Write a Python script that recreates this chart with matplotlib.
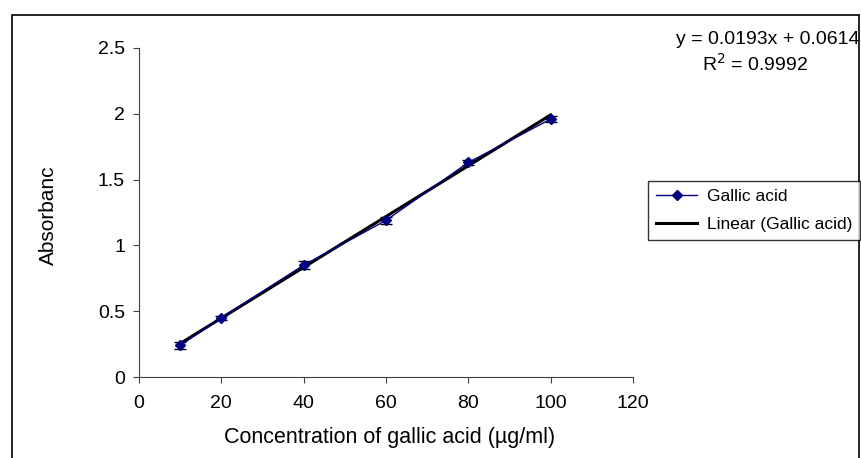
import matplotlib.pyplot as plt
import numpy as np
from matplotlib.patches import Rectangle
from matplotlib.lines import Line2D

plt.rcParams['font.family'] = ['Liberation Sans', 'DejaVu Sans']

conc = [10, 20, 40, 60, 80, 100]
absorb = [0.24, 0.45, 0.85, 1.19, 1.63, 1.96]
err = [0.025, 0.015, 0.03, 0.025, 0.02, 0.02]
slope = 0.0193
intercept = 0.0614
r2 = 0.9992

W, H = 861, 458
fig = plt.figure(figsize=(W / 100, H / 100), dpi=100)
ax = fig.add_axes([139 / W, 1 - 377 / H, (633 - 139) / W, (377 - 48) / H])

# outer chart border
fig.patches.append(Rectangle((12 / W, -0.05), (859 - 12) / W, 1 - 15 / H + 0.05,
                             transform=fig.transFigure, fill=False,
                             edgecolor='black', lw=1.2))

ax.errorbar(conc, absorb, yerr=err, color='#000080', lw=1, marker='D', ms=5,
            ecolor='black', elinewidth=1, capsize=4, capthick=1, zorder=3)
xs = np.array([conc[0], conc[-1]])
ax.plot(xs, slope * xs + intercept, color='black', lw=2.2, zorder=2)

ax.set_xlim(0, 120)
ax.set_ylim(0, 2.5)
ax.set_xticks(range(0, 121, 20))
ax.set_yticks([0, 0.5, 1, 1.5, 2, 2.5])
ax.set_yticklabels(['0', '0.5', '1', '1.5', '2', '2.5'])
for s in ['top', 'right']:
    ax.spines[s].set_visible(False)
for s in ['left', 'bottom']:
    ax.spines[s].set_color('#404040')
ax.tick_params(direction='out', length=4, color='#404040', labelsize=14, pad=6)
ax.tick_params(axis='x', pad=9)

fig.text(390 / W, 1 - 437 / H, 'Concentration of gallic acid (µg/ml)',
         ha='center', va='center', fontsize=15.5)
fig.text(48 / W, 1 - 215 / H, 'Absorbanc', rotation=90,
         ha='center', va='center', fontsize=15)

fig.text(859 / W, 1 - 40 / H, f'y = {slope}x + {intercept}',
         ha='right', va='center', fontsize=14)
fig.text(755 / W, 1 - 64 / H, f'R$^2$ = {r2}',
         ha='center', va='center', fontsize=14)

handles = [Line2D([], [], color='#000080', lw=1, marker='D', ms=5),
           Line2D([], [], color='black', lw=2.2)]
leg = fig.legend(handles, ['Gallic acid', 'Linear (Gallic acid)'],
                 loc='upper left', bbox_to_anchor=(648 / W, 1 - 181 / H),
                 fontsize=12.5, frameon=True, fancybox=False, edgecolor='black',
                 handlelength=2.4, borderpad=0.45, labelspacing=0.75,
                 handletextpad=0.55, borderaxespad=0)
leg.get_frame().set_linewidth(1)

fig.savefig('out.png', dpi=100)
